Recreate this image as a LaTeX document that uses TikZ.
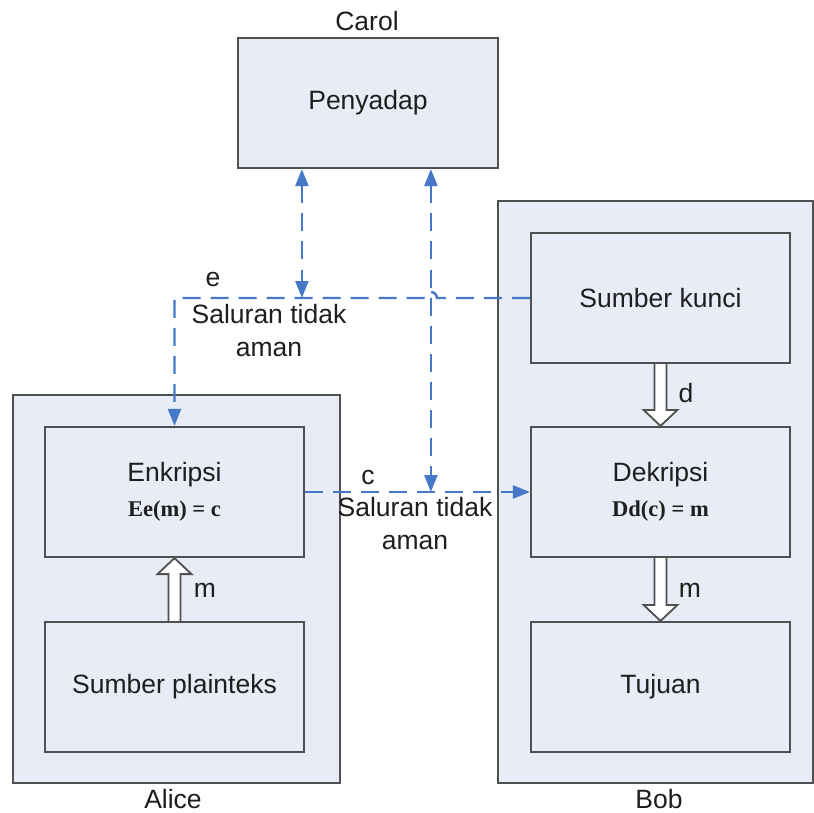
\documentclass[tikz,border=0pt]{standalone}
\usepackage{fontspec}
\setmainfont{Liberation Sans}
\newfontfamily\fmlserif{Liberation Serif}
\newcommand\fmlstyle{\fontsize{22.5}{27}\selectfont\fmlserif\bfseries}
\usetikzlibrary{arrows.meta,calc}
\definecolor{boxfill}{RGB}{232,236,246}
\definecolor{boxline}{RGB}{80,80,80}
\definecolor{chan}{RGB}{70,120,200}
\definecolor{txt}{RGB}{30,30,30}
\begin{document}
\begin{tikzpicture}[x=1pt,y=-1pt,
  font=\fontsize{26.5}{33}\selectfont, text=txt,
  box/.style={draw=boxline, line width=2.2pt, fill=boxfill, inner sep=0pt, align=center},
  channel/.style={draw=chan, line width=2.4pt, dash pattern=on 18pt off 10pt},
  tip/.style={-{Triangle[length=17pt,width=13pt]}},
  dtip/.style={{Triangle[length=17pt,width=13pt]}-{Triangle[length=17pt,width=13pt]}},
  hollow/.style={draw=boxline, line width=1.8pt, fill=white, line join=miter},
  lbl/.style={inner sep=0pt, anchor=base},
  chlbl/.style={inner sep=0pt, align=center},
]
\useasboundingbox (0,0) rectangle (814,813);
\fill[white] (0,0) rectangle (814,813);

% outer boxes
\node[box, minimum width=260, minimum height=130] (carol) at (368,103) {Penyadap};
\node[box, minimum width=315, minimum height=582] (bob) at (655.5,492) {};
\node[box, minimum width=327, minimum height=388] (alice) at (176.5,589) {};

% inner boxes
\node[box, minimum width=259, minimum height=130] (kunci) at (660.5,298) {Sumber kunci};
\node[box, minimum width=259, minimum height=130] (dek) at (660.5,492) {Dekripsi\\[2.5pt]{\fmlstyle Dd(c) = m}};
\node[box, minimum width=259, minimum height=130] (tuj) at (660.5,687) {Tujuan};
\node[box, minimum width=259, minimum height=130] (enk) at (174.5,492) {Enkripsi\\[2.5pt]{\fmlstyle Ee(m) = c}};
\node[box, minimum width=259, minimum height=130] (plain) at (174.5,687) {Sumber plainteks};

% channel coordinates
\coordinate (tapE) at ($(carol.south west)+(65,0)$);
\coordinate (tapC) at ($(carol.south west)+(194,0)$);
\coordinate (ejump) at ($(tapC |- kunci.west)+(6,0)$);

% dashed channels
\draw[channel, tip] (kunci.west) -- (ejump) arc[start angle=0, end angle=-180, radius=6] -- (enk.north |- kunci.west) -- (enk.north);
\draw[channel, tip] (enk.east) -- (dek.west);
\draw[channel, dtip] (tapE) -- (tapE |- kunci.west);
\draw[channel, dtip] (tapC) -- (tapC |- enk.east);

% hollow arrows
\draw[hollow] ($(plain.north)+(-6,0)$) -- ($(enk.south)+(-6,16)$) -- ++(-11,0) -- (enk.south) -- ($(enk.south)+(17,16)$) -- ++(-11,0) -- ($(plain.north)+(6,0)$);
\draw[hollow] ($(kunci.south)+(-6,0)$) -- ($(dek.north)+(-6,-16)$) -- ++(-11,0) -- (dek.north) -- ($(dek.north)+(17,-16)$) -- ++(-11,0) -- ($(kunci.south)+(6,0)$);
\draw[hollow] ($(dek.south)+(-6,0)$) -- ($(tuj.north)+(-6,-16)$) -- ++(-11,0) -- (tuj.north) -- ($(tuj.north)+(17,-16)$) -- ++(-11,0) -- ($(dek.south)+(6,0)$);

% labels
\node[lbl] (lCarol) at (367,31) {Carol};
\node[lbl] (lAlice) at (173,808) {Alice};
\node[lbl] (lBob) at (659,808) {Bob};
\node[lbl] (lE) at (213,287) {e};
\node[lbl] (lC) at (368,484) {c};
\node[chlbl] (ch1) at (269,331) {Saluran tidak\\aman};
\node[chlbl] (ch2) at (415,524) {Saluran tidak\\aman};
\node[lbl] (lM1) at (205,597) {m};
\node[lbl] (lD) at (686,402) {d};
\node[lbl] (lM2) at (690,597) {m};
\end{tikzpicture}
\end{document}
